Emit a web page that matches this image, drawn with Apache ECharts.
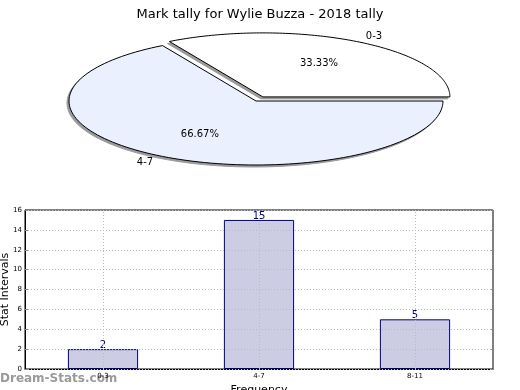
<!DOCTYPE html>
<html><head><meta charset="utf-8">
<script src="https://cdn.jsdelivr.net/npm/echarts@6/dist/echarts.min.js"></script>
<style>html,body{margin:0;padding:0;background:#fff}#c{width:520px;height:390px}</style>
</head><body><div id="c"></div>
<script>
var titleText = 'Mark tally for Wylie Buzza - 2018 tally';
var pieLabels = ['0-3', '4-7'];
var pieValues = [1, 2];
var pieExplode = [0.074, 0];
var pieColors = ['#ffffff', '#eaf0fe'];
var barCategories = ['0-3', '4-7', '8-11'];
var barValues = [2, 15, 5];
var yTicks = [0, 2, 4, 6, 8, 10, 12, 14, 16];

var FONT = 'DejaVu Sans';
var total = pieValues.reduce(function(a,b){return a+b;},0);
var chart = echarts.init(document.getElementById('c'));

function renderSlice(params, api) {
  var i = params.dataIndex;
  var before = 0;
  for (var k = 0; k < i; k++) before += pieValues[k];
  var a0 = before / total * 2 * Math.PI;
  var a1 = (before + pieValues[i]) / total * 2 * Math.PI;
  var mid = (a0 + a1) / 2;
  var ox = pieExplode[i] * Math.cos(mid), oy = pieExplode[i] * Math.sin(mid);
  var pts = [api.coord([ox, oy])];
  var n = 120;
  for (var s = 0; s <= n; s++) {
    var a = a0 + (a1 - a0) * s / n;
    pts.push(api.coord([ox + Math.cos(a), oy + Math.sin(a)]));
  }
  var sh = pts.map(function(p){ return [p[0] - 2, p[1] + 2]; });
  var pc = api.coord([ox + 0.6 * Math.cos(mid), oy + 0.6 * Math.sin(mid)]);
  var lc = api.coord([ox + 1.1 * Math.cos(mid), oy + 1.1 * Math.sin(mid)]);
  var pct = (pieValues[i] / total * 100).toFixed(2) + '%';
  return {
    type: 'group',
    children: [
      { type: 'polygon', z2: 0, shape: { points: sh }, style: { fill: '#9a9a9a', stroke: '#9a9a9a', lineWidth: 1 } },
      { type: 'polygon', z2: 5, shape: { points: pts },
        style: { fill: pieColors[i], stroke: '#000', lineWidth: 1 } },
      { type: 'text', x: pc[0], y: pc[1], z2: 10,
        style: { text: pct, fill: '#000', font: '10px ' + FONT, align: 'center', verticalAlign: 'middle' } },
      { type: 'text', x: lc[0], y: lc[1], z2: 10,
        style: { text: pieLabels[i], fill: '#000', font: '10px ' + FONT,
                 align: Math.cos(mid) >= 0 ? 'left' : 'right', verticalAlign: 'middle' } }
    ]
  };
}

chart.setOption({
  animation: false,
  title: { text: titleText, left: 'center', top: 3,
           textStyle: { fontFamily: FONT, fontSize: 13, fontWeight: 'normal', color: '#000' } },
  graphic: [{ type: 'text', left: 0, top: 373,
              style: { text: 'Dream-Stats.com', fill: '#9a9a9a', font: 'bold 12px ' + FONT } }],
  grid: [
    { left: 25, right: 27, top: 210, bottom: 21, show: true, borderColor: '#000', borderWidth: 1,
      backgroundColor: 'transparent', containLabel: false, outerBoundsMode: 'none' },
    { left: 69, width: 374, top: 37, height: 128, show: false, containLabel: false, outerBoundsMode: 'none' }
  ],
  xAxis: [
    { type: 'category', gridIndex: 0, data: barCategories,
      name: 'Frequency', nameLocation: 'middle', nameGap: 16, nameMoveOverlap: false,
      nameTextStyle: { fontFamily: FONT, fontSize: 11, color: '#000' },
      axisLine: { lineStyle: { color: '#000' } },
      axisTick: { show: true, alignWithLabel: true, inside: true, length: 3, lineStyle: { color: '#888' } },
      axisLabel: { fontFamily: FONT, fontSize: 7, color: '#000', margin: 4 },
      splitLine: { show: false } },
    { type: 'value', gridIndex: 1, min: -1, max: 1, show: false }
  ],
  yAxis: [
    { type: 'value', gridIndex: 0, min: 0, max: 16, interval: 2, z: 3,
      name: 'Stat Intervals', nameLocation: 'middle', nameGap: 14, nameMoveOverlap: false,
      nameTextStyle: { fontFamily: FONT, fontSize: 11, color: '#000' },
      axisLine: { show: true, lineStyle: { color: '#000' } },
      axisTick: { show: true, inside: true, length: 3, lineStyle: { color: '#888' } },
      axisLabel: { fontFamily: FONT, fontSize: 7, color: '#000', margin: 3,
                   formatter: function(v){ return yTicks.indexOf(v) >= 0 ? String(v) : ''; } },
      splitLine: { show: true, lineStyle: { color: '#bbb', type: [1, 2], width: 1 } } },
    { type: 'value', gridIndex: 0, position: 'right', min: 0, max: 16, interval: 2,
      axisLine: { show: false }, axisLabel: { show: false }, splitLine: { show: false },
      axisTick: { show: true, inside: true, length: 3, lineStyle: { color: '#888' } } },
    { type: 'value', gridIndex: 1, min: -1, max: 1, show: false }
  ],
  series: [
    { type: 'bar', xAxisIndex: 0, yAxisIndex: 0, data: barValues, barWidth: '45%',
      itemStyle: { color: '#ccccE5', borderColor: '#000080', borderWidth: 1 },
      label: { show: true, position: 'top', distance: -1, color: '#000080', fontFamily: FONT, fontSize: 10 },
      markLine: { silent: true, symbol: 'none', label: { show: false },
                  lineStyle: { color: '#bbb', type: [1, 2], width: 1 },
                  data: barCategories.map(function(c){ return { xAxis: c }; }) } },
    { type: 'custom', xAxisIndex: 1, yAxisIndex: 2, clip: false,
      data: pieValues.map(function(v){ return [0, 0, v]; }),
      renderItem: renderSlice }
  ]
});
</script></body></html>
